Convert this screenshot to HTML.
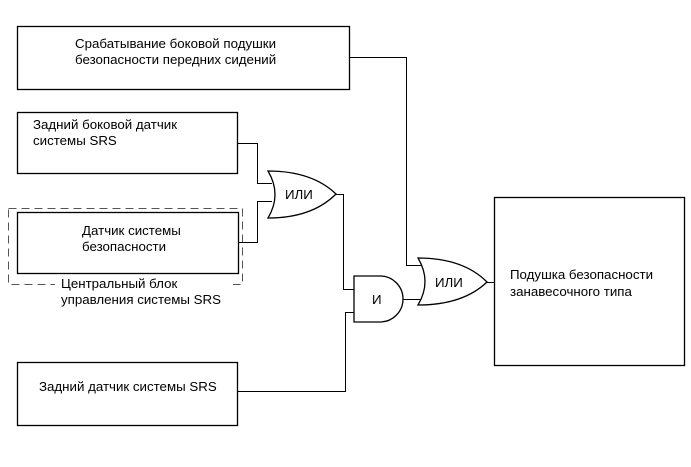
<!DOCTYPE html>
<html><head><meta charset="utf-8"><style>body{margin:0;background:#fff}svg{display:block}text{font-family:"Liberation Sans","DejaVu Sans",sans-serif;font-size:13.3px;fill:#000}</style></head>
<body>
<svg width="691" height="467" viewBox="0 0 691 467" xmlns="http://www.w3.org/2000/svg">
<g fill="none" stroke="#000" stroke-width="1.3">
<rect x="17.5" y="26.5" width="332" height="63"/>
<rect x="17.5" y="112.5" width="220" height="61"/>
<rect x="17.5" y="212.5" width="221" height="61"/>
<rect x="17.5" y="362.5" width="220" height="63"/>
<rect x="494.5" y="197.5" width="190" height="168"/>
</g>
<rect x="8.5" y="208.5" width="234" height="76" fill="none" stroke="#555" stroke-width="1" stroke-dasharray="8,5"/>
<rect x="55" y="276" width="178" height="14" fill="#fff"/>
<g fill="none" stroke="#000" stroke-width="1">
<polyline points="349,57.5 406.5,57.5 406.5,265.5 424,265.5"/>
<polyline points="237,143.5 257.5,143.5 257.5,183.5 272,183.5"/>
<polyline points="238,242.5 257.5,242.5 257.5,201.5 272,201.5"/>
<polyline points="336,194.5 343.5,194.5 343.5,289.5 354,289.5"/>
<polyline points="237,391.5 345.5,391.5 345.5,312.5 354,312.5"/>
<line x1="403" y1="299.5" x2="422" y2="299.5"/>
<line x1="487" y1="282.5" x2="494" y2="282.5"/>
</g>
<g fill="#fff" stroke="#000" stroke-width="1.3">
<path d="M268,171 Q312,171 336,194 Q312,218 268,218 Q282,194.5 268,171 Z"/>
<path d="M354,276 L380,276 A23,23 0 0 1 380,322 L354,322 Z"/>
<path d="M418,258 Q463,258 487,282 Q463,305 418,305 Q432,281.5 418,258 Z"/>
</g>
<text x="285" y="199">ИЛИ</text>
<text x="372" y="304">И</text>
<text x="435" y="287">ИЛИ</text>
<text x="75" y="48">Срабатывание боковой подушки</text>
<text x="75" y="64">безопасности передних сидений</text>
<text x="33" y="129">Задний боковой датчик</text>
<text x="33" y="145">системы SRS</text>
<text x="82" y="235">Датчик системы</text>
<text x="82" y="251">безопасности</text>
<text x="61" y="288">Центральный блок</text>
<text x="61" y="304">управления системы SRS</text>
<text x="39" y="391">Задний датчик системы SRS</text>
<text x="510" y="279">Подушка безопасности</text>
<text x="510" y="296">занавесочного типа</text>
</svg>
</body></html>
